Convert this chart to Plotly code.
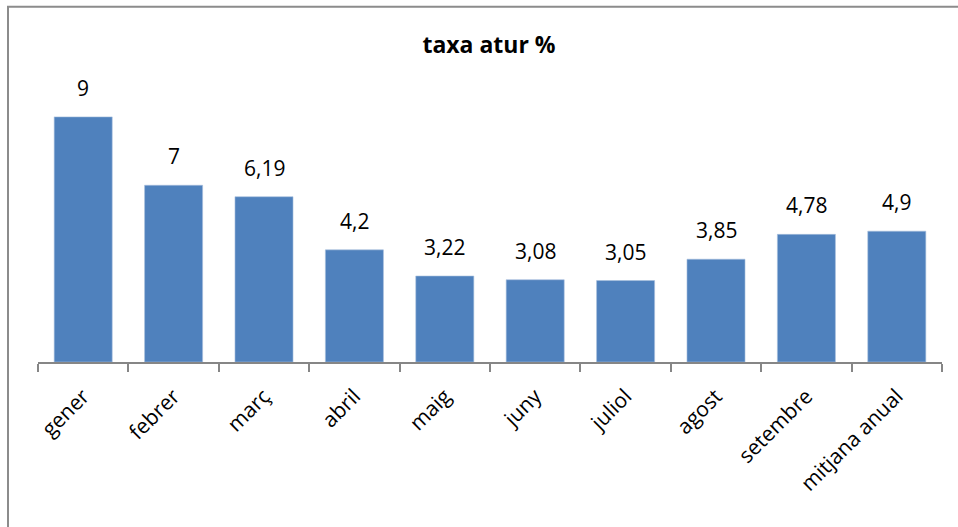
import plotly.graph_objects as go

# data
months = ["gener", "febrer", "març", "abril", "maig", "juny", "juliol",
          "agost", "setembre", "mitjana anual"]
rates = [9.18, 6.62, 6.19, 4.2, 3.22, 3.08, 3.05, 3.85, 4.78, 4.9]
rate_labels = ["9", "7", "6,19", "4,2", "3,22", "3,08", "3,05", "3,85", "4,78", "4,9"]

BAR_COLOR = "#4F81BD"
AXIS_COLOR = "#868686"
FONT = "Open Sans"

fig = go.Figure()
fig.add_trace(go.Bar(
    x=months,
    y=rates,
    marker=dict(color=BAR_COLOR, line=dict(color="#A7BFDE", width=0.6)),
    hoverinfo="x+y",
))

# value labels sit a bit higher above the bars than plotly's "outside" text
for month, rate, label in zip(months, rates, rate_labels):
    fig.add_annotation(
        x=month, y=rate, text=label,
        showarrow=False, yanchor="bottom", yshift=13,
        font=dict(family=FONT, size=21, color="#000000"),
    )

fig.update_layout(
    width=958,
    height=527,
    margin=dict(l=38, r=16, t=94.5, b=165),
    paper_bgcolor="white",
    plot_bgcolor="white",
    bargap=0.358,
    showlegend=False,
    title=dict(
        text="<b>taxa atur %</b>",
        x=489 / 958, xanchor="center",
        y=1 - 45 / 527, yanchor="middle",
        font=dict(family=FONT, size=23, color="#000000"),
    ),
    xaxis=dict(
        showline=True, linecolor=AXIS_COLOR, linewidth=1.5,
        ticks="outside", tickson="boundaries", ticklen=8,
        tickcolor=AXIS_COLOR, tickwidth=1.5,
        tickangle=-45,
        ticklabelstandoff=12,
        tickfont=dict(family=FONT, size=21, color="#000000"),
        showgrid=False,
    ),
    yaxis=dict(
        range=[0, 10],
        visible=False,
        showgrid=False,
        zeroline=False,
    ),
)

# outer chart border (only left and top edges fall inside the picture)
fig.add_shape(
    type="rect", xref="paper", yref="paper",
    x0=(8 - 38) / 904, x1=1.2,
    y0=-1.0, y1=(362 - 6) / 267.5,
    line=dict(color="#8C8C8C", width=2),
    fillcolor="rgba(0,0,0,0)",
    layer="below",
)

# drop the default page margin so the figure sits at the window's corner
fig.write_html("out.html", config={"displayModeBar": False},
               post_script="document.body.style.margin='0';")
